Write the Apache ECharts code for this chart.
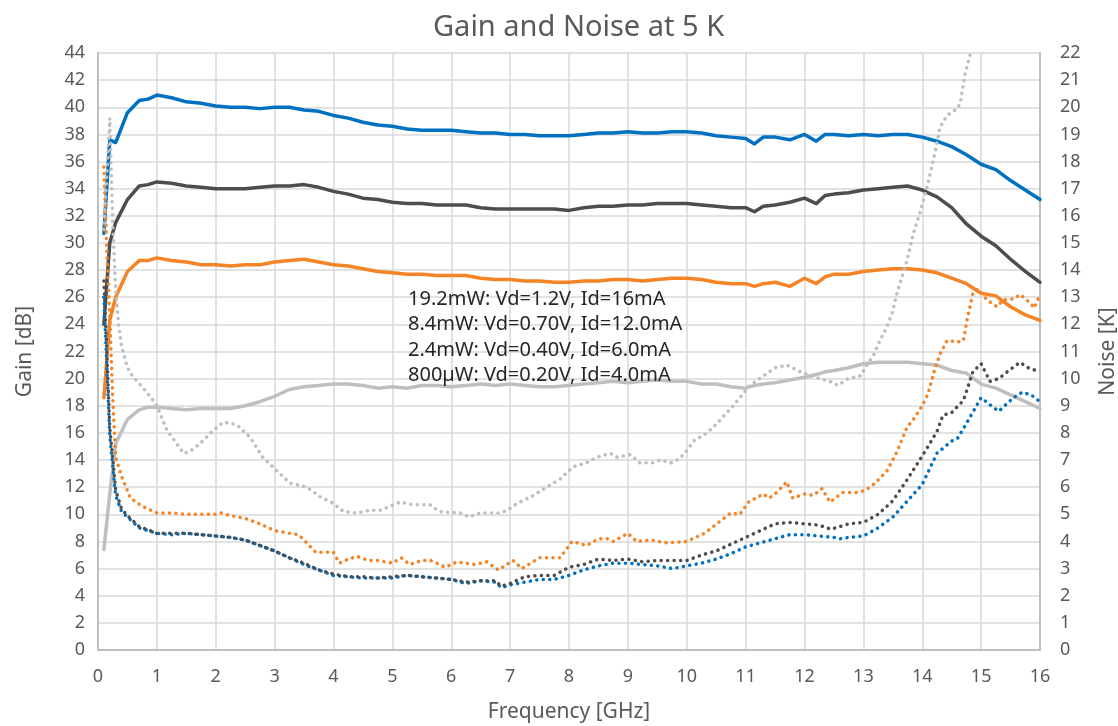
<!DOCTYPE html>
<html>
<head>
<meta charset="utf-8">
<title>Gain and Noise at 5 K</title>
<script src="https://cdn.jsdelivr.net/npm/echarts@6/dist/echarts.min.js"></script>
<style>
  html, body { margin: 0; padding: 0; background: #ffffff; }
  #chart { width: 1118px; height: 726px; }
</style>
</head>
<body>
<div id="chart"></div>
<script>
// Bias conditions (legend entries)
const biasLabels = [
  '19.2mW: Vd=1.2V, Id=16mA',
  '8.4mW: Vd=0.70V, Id=12.0mA',
  '2.4mW: Vd=0.40V, Id=6.0mA',
  '800\u00b5W: Vd=0.20V, Id=4.0mA'
];

// Gain sweep frequencies [GHz]
const gainFreq = [0.1,0.2,0.3,0.5,0.7,0.85,1.0,1.25,1.5,1.75,2.0,2.25,2.5,2.75,3.0,3.25,3.5,3.75,4.0,4.25,4.5,4.75,5.0,5.25,5.5,5.75,6.0,6.25,6.5,6.75,7.0,7.25,7.5,7.75,8.0,8.25,8.5,8.75,9.0,9.25,9.5,9.75,10.0,10.25,10.5,10.75,11.0,11.15,11.3,11.5,11.75,12.0,12.2,12.35,12.5,12.75,13.0,13.25,13.5,13.75,14.0,14.25,14.5,14.75,15.0,15.25,15.5,15.75,16.0];

// Gain [dB]
const gain19mW = [30.7,37.6,37.4,39.6,40.5,40.6,40.9,40.7,40.4,40.3,40.1,40.0,40.0,39.9,40.0,40.0,39.8,39.7,39.4,39.2,38.9,38.7,38.6,38.4,38.3,38.3,38.3,38.2,38.1,38.1,38.0,38.0,37.9,37.9,37.9,38.0,38.1,38.1,38.2,38.1,38.1,38.2,38.2,38.1,37.9,37.8,37.7,37.3,37.8,37.8,37.6,38.0,37.5,38.0,38.0,37.9,38.0,37.9,38.0,38.0,37.8,37.5,37.1,36.5,35.8,35.4,34.6,33.9,33.2];
const gain8mW = [24.0,30.0,31.5,33.2,34.2,34.3,34.5,34.4,34.2,34.1,34.0,34.0,34.0,34.1,34.2,34.2,34.3,34.1,33.8,33.6,33.3,33.2,33.0,32.9,32.9,32.8,32.8,32.8,32.6,32.5,32.5,32.5,32.5,32.5,32.4,32.6,32.7,32.7,32.8,32.8,32.9,32.9,32.9,32.8,32.7,32.6,32.6,32.3,32.7,32.8,33.0,33.3,32.9,33.5,33.6,33.7,33.9,34.0,34.1,34.2,33.9,33.4,32.6,31.4,30.5,29.8,28.8,27.9,27.1];
const gain2mW = [18.6,24.3,26.0,27.9,28.7,28.7,28.9,28.7,28.6,28.4,28.4,28.3,28.4,28.4,28.6,28.7,28.8,28.6,28.4,28.3,28.1,27.9,27.8,27.7,27.7,27.6,27.6,27.6,27.4,27.3,27.3,27.2,27.2,27.1,27.1,27.2,27.2,27.3,27.3,27.2,27.3,27.4,27.4,27.3,27.1,27.0,27.0,26.8,27.0,27.1,26.8,27.4,27.0,27.5,27.7,27.7,27.9,28.0,28.1,28.1,28.0,27.8,27.4,27.0,26.3,26.1,25.3,24.7,24.3];
const gain800uW = [7.4,11.5,15.2,17.0,17.7,17.9,17.9,17.8,17.7,17.8,17.8,17.8,18.0,18.3,18.7,19.2,19.4,19.5,19.6,19.6,19.5,19.3,19.4,19.3,19.5,19.5,19.4,19.5,19.6,19.5,19.6,19.5,19.4,19.4,19.5,19.6,19.7,19.8,19.7,19.8,19.9,19.8,19.8,19.6,19.6,19.4,19.3,19.5,19.6,19.7,19.9,20.1,20.3,20.5,20.6,20.8,21.1,21.2,21.2,21.2,21.1,21.0,20.6,20.4,19.6,19.3,18.8,18.3,17.8];

// Noise temperature [K]: frequencies and values per bias point
const noise19mWFreq = [0.1,0.2,0.3,0.4,0.5,0.7,1.0,1.25,1.5,1.75,2.0,2.25,2.5,2.75,3.0,3.25,3.5,3.75,4.0,4.25,4.5,4.75,5.0,5.25,5.5,5.75,6.0,6.25,6.5,6.75,6.85,7.0,7.25,7.5,7.75,8.0,8.25,8.5,8.75,9.0,9.25,9.5,9.75,10.0,10.25,10.5,10.75,11.0,11.25,11.5,11.75,12.0,12.25,12.5,12.6,12.75,13.0,13.25,13.5,13.75,14.0,14.25,14.5,14.6,14.75,15.0,15.2,15.3,15.55,15.7,15.85,16.0];
const noise19mW = [13.0,7.9,5.7,5.1,4.9,4.5,4.3,4.25,4.3,4.25,4.2,4.15,4.05,3.85,3.65,3.4,3.15,2.95,2.75,2.7,2.65,2.65,2.65,2.75,2.7,2.65,2.6,2.45,2.55,2.5,2.3,2.4,2.5,2.6,2.6,2.75,2.95,3.1,3.2,3.2,3.15,3.1,3.0,3.1,3.2,3.35,3.55,3.8,3.95,4.1,4.25,4.25,4.2,4.15,4.1,4.15,4.2,4.5,4.9,5.5,6.1,7.25,7.7,7.8,8.35,9.3,8.95,8.8,9.3,9.5,9.4,9.15];

const noise8mWFreq = [0.1,0.2,0.3,0.4,0.5,0.7,1.0,1.25,1.5,1.75,2.0,2.25,2.5,2.75,3.0,3.25,3.5,3.75,4.0,4.25,4.5,4.75,5.0,5.25,5.5,5.75,6.0,6.25,6.5,6.75,6.85,7.0,7.25,7.5,7.75,8.0,8.25,8.5,8.75,9.0,9.25,9.5,9.75,10.0,10.25,10.5,10.75,11.0,11.25,11.5,11.75,12.0,12.25,12.45,12.75,13.0,13.25,13.5,13.75,14.0,14.25,14.35,14.5,14.7,14.86,15.0,15.15,15.3,15.47,15.66,15.8,16.0];
const noise8mW = [13.6,8.2,5.9,5.2,4.95,4.55,4.3,4.3,4.3,4.25,4.2,4.15,4.05,3.85,3.65,3.4,3.2,2.95,2.8,2.7,2.7,2.65,2.7,2.75,2.7,2.65,2.6,2.5,2.55,2.55,2.35,2.45,2.7,2.75,2.75,3.05,3.15,3.35,3.3,3.35,3.25,3.3,3.3,3.3,3.5,3.65,3.9,4.15,4.4,4.65,4.7,4.65,4.6,4.45,4.65,4.7,5.0,5.5,6.3,7.15,8.05,8.65,8.75,9.2,10.25,10.55,9.9,10.0,10.3,10.6,10.4,10.25];

const noise2mWFreq = [0.1,0.15,0.2,0.25,0.3,0.4,0.55,0.75,1.0,1.25,1.5,1.75,2.0,2.1,2.25,2.5,2.75,3.0,3.25,3.4,3.5,3.7,4.0,4.1,4.25,4.4,4.6,4.75,5.0,5.15,5.3,5.5,5.65,5.9,6.1,6.4,6.6,6.8,7.05,7.2,7.5,7.85,8.05,8.3,8.5,8.65,8.75,9.0,9.15,9.4,9.65,10.0,10.3,10.45,10.75,10.9,11.05,11.3,11.4,11.5,11.7,11.8,12.0,12.15,12.3,12.43,12.65,12.9,13.05,13.2,13.4,13.57,13.74,13.85,14.0,14.1,14.2,14.3,14.42,14.6,14.7,14.76,14.86,14.95,15.1,15.27,15.37,15.57,15.66,15.83,15.9,16.0];
const noise2mW = [17.8,14.7,12.3,9.3,7.1,6.4,5.6,5.3,5.05,5.05,5.0,5.0,5.0,5.05,4.95,4.85,4.65,4.4,4.3,4.25,4.05,3.6,3.6,3.2,3.35,3.45,3.3,3.3,3.2,3.4,3.15,3.3,3.3,3.05,3.25,3.15,3.25,2.95,3.3,3.0,3.4,3.4,4.0,3.85,4.1,4.1,4.0,4.3,4.0,4.05,3.95,4.0,4.3,4.55,5.05,5.0,5.45,5.75,5.6,5.75,6.2,5.6,5.75,5.7,5.95,5.45,5.8,5.8,5.9,6.15,6.6,7.3,8.2,8.5,9.0,9.45,10.25,10.9,11.4,11.35,11.4,12.15,13.15,13.3,12.9,12.65,12.9,12.95,13.1,12.8,12.6,13.1];

const noise800uWFreq = [0.1,0.2,0.25,0.3,0.35,0.4,0.5,0.6,0.75,0.9,1.0,1.17,1.34,1.45,1.55,1.73,1.96,2.13,2.36,2.58,2.8,3.04,3.26,3.55,3.77,4.0,4.17,4.4,4.62,4.8,5.13,5.35,5.64,5.8,6.15,6.3,6.5,6.83,6.95,7.12,7.4,7.62,7.85,8.07,8.3,8.47,8.7,8.82,9.04,9.2,9.43,9.55,9.74,9.88,10.0,10.14,10.28,10.45,10.62,10.79,10.96,11.07,11.3,11.5,11.7,11.93,12.26,12.43,12.57,12.74,12.95,13.06,13.17,13.28,13.4,13.5,13.57,13.74,13.85,13.96,14.08,14.2,14.3,14.42,14.6,14.65,14.73,14.81,14.9];
const noise800uW = [15.5,19.6,15.7,13.3,12.0,11.2,10.4,10.05,9.7,9.3,9.0,8.1,7.6,7.25,7.3,7.6,8.1,8.4,8.3,7.85,7.1,6.6,6.15,6.0,5.65,5.4,5.1,5.05,5.15,5.15,5.45,5.35,5.35,5.1,5.05,4.9,5.05,5.05,5.15,5.4,5.7,6.0,6.3,6.75,6.9,7.1,7.25,7.1,7.2,6.9,6.9,7.0,6.9,7.05,7.35,7.75,7.9,8.2,8.6,9.0,9.45,9.75,10.1,10.4,10.5,10.25,10.0,9.9,9.75,10.0,10.1,10.5,10.85,11.4,11.9,12.5,13.15,14.35,15.35,16.1,17.05,18.15,19.25,19.7,19.95,20.2,21.25,21.9,23.5];

// Axis tick ranges
const freqTicks = { min: 0, max: 16, step: 1 };
const gainTicks = { min: 0, max: 44, step: 2 };
const noiseTicks = { min: 0, max: 22, step: 1 };

const colors = ['#0070c0', '#4d4d4d', '#f58426', '#bfbfbf'];
const textGrey = '#595959';
const gridGrey = '#d9d9d9';
const axisGrey = '#bfbfbf';
const fontFamily = '"Noto Sans", "Open Sans", sans-serif';

const zip = (xs, ys) => xs.map((x, i) => [x, ys[i]]);

const gainSets = [gain19mW, gain8mW, gain2mW, gain800uW];
const noiseSets = [
  [noise19mWFreq, noise19mW],
  [noise8mWFreq, noise8mW],
  [noise2mWFreq, noise2mW],
  [noise800uWFreq, noise800uW]
];

const series = [];
gainSets.forEach((vals, i) => {
  series.push({
    name: biasLabels[i],
    type: 'line',
    yAxisIndex: 0,
    data: zip(gainFreq, vals),
    showSymbol: false,
    symbol: 'none',
    clip: true,
    lineStyle: { color: colors[i], width: 3.5, cap: 'round', join: 'round' },
    itemStyle: { color: colors[i] },
    z: 3
  });
});
noiseSets.forEach(([fx, vals], i) => {
  series.push({
    name: biasLabels[i] + ' (noise)',
    type: 'line',
    yAxisIndex: 1,
    data: zip(fx, vals),
    showSymbol: false,
    symbol: 'none',
    clip: true,
    lineStyle: { color: colors[i], width: 3.5, type: [0.1, 6.4], cap: 'round', join: 'round' },
    itemStyle: { color: colors[i] },
    z: 4
  });
});

const chart = echarts.init(document.getElementById('chart'), null, { renderer: 'canvas' });
chart.setOption({
  animation: false,
  backgroundColor: '#ffffff',
  title: {
    text: 'Gain and Noise at 5 K',
    left: 428,
    top: 8,
    textStyle: { color: textGrey, fontSize: 29, fontWeight: 'normal', fontFamily }
  },
  legend: {
    data: biasLabels,
    orient: 'vertical',
    left: 398,
    top: 284,
    icon: 'none',
    itemWidth: 0,
    itemHeight: 20,
    itemGap: 5.5,
    selectedMode: false,
    textStyle: { color: '#262626', fontSize: 20, fontFamily }
  },
  grid: { left: 98, right: 78, top: 53, bottom: 76, containLabel: false, outerBoundsMode: 'none' },
  xAxis: {
    type: 'value',
    min: freqTicks.min,
    max: freqTicks.max,
    interval: freqTicks.step,
    name: 'Frequency [GHz]',
    nameLocation: 'middle',
    nameGap: 52,
    nameTextStyle: { color: textGrey, fontSize: 21, fontFamily },
    axisLine: { show: true, lineStyle: { color: axisGrey, width: 2 } },
    axisTick: { show: false },
    axisLabel: { color: textGrey, fontSize: 18, margin: 18, fontFamily },
    splitLine: { show: true, lineStyle: { color: gridGrey, width: 1.5 } }
  },
  yAxis: [
    {
      type: 'value',
      position: 'left',
      min: gainTicks.min,
      max: gainTicks.max,
      interval: gainTicks.step,
      name: 'Gain [dB]',
      nameLocation: 'middle',
      nameRotate: 90,
      nameGap: 62,
      nameTextStyle: { color: textGrey, fontSize: 21, fontFamily },
      axisLine: { show: true, lineStyle: { color: axisGrey, width: 2 } },
      axisTick: { show: false },
      axisLabel: { color: textGrey, fontSize: 18, margin: 13, fontFamily },
      splitLine: { show: true, lineStyle: { color: gridGrey, width: 1.5 } }
    },
    {
      type: 'value',
      position: 'right',
      min: noiseTicks.min,
      max: noiseTicks.max,
      interval: noiseTicks.step,
      name: 'Noise [K]',
      nameLocation: 'middle',
      nameRotate: 90,
      nameGap: 58,
      nameTextStyle: { color: textGrey, fontSize: 21, fontFamily },
      axisLine: { show: true, lineStyle: { color: axisGrey, width: 2 } },
      axisTick: { show: false },
      axisLabel: { color: textGrey, fontSize: 18, margin: 20, fontFamily },
      splitLine: { show: false }
    }
  ],
  series
});
</script>
</body>
</html>
